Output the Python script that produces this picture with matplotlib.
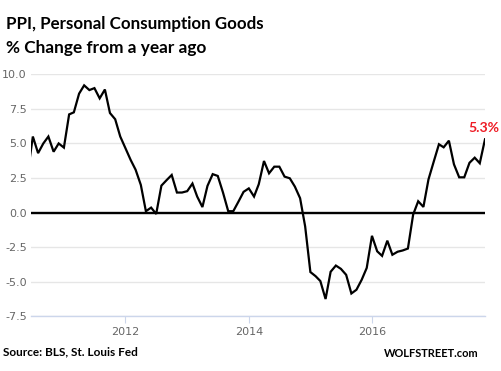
import matplotlib
matplotlib.use("Agg")
import matplotlib.pyplot as plt
import numpy as np
import pandas as pd

# Data: PPI personal consumption goods, % change y/y, monthly
start_month = "2010-06"
values = [
    # 2010 Jun-Dec
    2.9, 5.5, 4.3, 5.0, 5.5, 4.4, 5.0,
    # 2011
    4.7, 7.1, 7.25, 8.6, 9.2, 8.86, 9.0, 8.26, 8.9, 7.2, 6.75, 5.5,
    # 2012
    4.65, 3.8, 3.1, 2.0, 0.1, 0.36, -0.1, 1.95, 2.35, 2.72, 1.45, 1.45,
    # 2013
    1.55, 2.1, 1.16, 0.4, 1.93, 2.78, 2.65, 1.45, 0.1, 0.1, 0.8, 1.5,
    # 2014
    1.75, 1.16, 2.05, 3.73, 2.84, 3.32, 3.32, 2.6, 2.48, 1.88, 1.04, -1.0,
    # 2015
    -4.3, -4.6, -4.95, -6.25, -4.28, -3.83, -4.07, -4.5, -5.85, -5.58, -4.86, -4.0,
    # 2016
    -1.68, -2.8, -3.13, -2.03, -3.05, -2.83, -2.74, -2.6, -0.15, 0.82, 0.41, 2.4,
    # 2017 Jan-Nov
    3.68, 4.94, 4.72, 5.2, 3.49, 2.55, 2.55, 3.6, 3.97, 3.57, 5.3,
]
dates = pd.date_range(start=start_month, periods=len(values), freq="MS")
y_ticks = [-7.5, -5.0, -2.5, 0.0, 2.5, 5.0, 7.5, 10.0]
x_tick_years = [2012, 2014, 2016]
last_label = "5.3%"

title = "PPI, Personal Consumption Goods"
subtitle = "% Change from a year ago"
source = "Source: BLS, St. Louis Fed"
brand = "WOLFSTREET.com"

W, H = 502, 371
fig = plt.figure(figsize=(W / 100, H / 100), dpi=100)
fig.patch.set_facecolor("white")

def fx(px):
    return px / W

def fy(py):
    return 1 - py / H

ax = fig.add_axes([fx(31), fy(316.3), fx(485) - fx(31), fy(74.3) - fy(316.3)])
ax.set_facecolor("white")

ax.plot(dates, values, color="black", lw=1.6, solid_joinstyle="miter", zorder=4)
ax.axhline(0, color="black", lw=1.7, zorder=3)

ax.set_ylim(-7.5, 10)
ax.set_xlim(pd.Timestamp("2010-06-20"), pd.Timestamp("2017-11-01"))
ax.set_yticks(y_ticks)
ax.set_yticklabels([f"{v:.1f}" for v in y_ticks])
ax.set_xticks([pd.Timestamp(f"{y}-01-01") for y in x_tick_years])
ax.set_xticklabels([str(y) for y in x_tick_years])

ax.grid(axis="y", color="#e6e6e6", lw=1.0, zorder=0)
ax.grid(axis="x", visible=False)
for s in ["top", "right", "left"]:
    ax.spines[s].set_visible(False)
ax.spines["bottom"].set_color("#ccd6eb")
ax.spines["bottom"].set_linewidth(1.0)
ax.tick_params(axis="y", length=0, pad=3, labelsize=8, labelcolor="#666666")
ax.tick_params(axis="x", length=5, width=0.8, color="#ccd6eb", pad=3,
               labelsize=8, labelcolor="#666666", direction="out")

FONT = ["Lato", "DejaVu Sans"]
renderer = fig.canvas.get_renderer()

def fit_text(t, target_w):
    # scale font size so the rendered text spans target_w pixels
    for _ in range(3):
        bb = t.get_window_extent(renderer=renderer)
        t.set_fontsize(t.get_fontsize() * target_w / bb.width)

# Last value label
lab = ax.annotate(last_label, xy=(dates[-1], values[-1]), xytext=(fx(499.5), fy(131.7)),
                  textcoords="figure fraction", ha="right", va="baseline",
                  color="#ee1c25", fontsize=10, fontweight="bold", family=FONT)
fit_text(lab, 31)

t1 = fig.text(fx(6), fy(29.3), title, fontsize=13, fontweight="bold",
              color="black", ha="left", va="baseline", family=FONT)
fit_text(t1, 256)
t2 = fig.text(fx(6), fy(53.3), subtitle, fontsize=11, fontweight="bold",
              color="black", ha="left", va="baseline", family=FONT)
fit_text(t2, 200)
t3 = fig.text(fx(3), fy(355), source, fontsize=8, fontweight="bold",
              color="black", ha="left", va="baseline", family=FONT)
fit_text(t3, 135)
t4 = fig.text(fx(479), fy(356.7), brand, fontsize=8, fontweight="bold",
              color="black", ha="right", va="baseline", family=FONT)
fit_text(t4, 95)

fig.savefig("out.png", dpi=100, facecolor="white")
